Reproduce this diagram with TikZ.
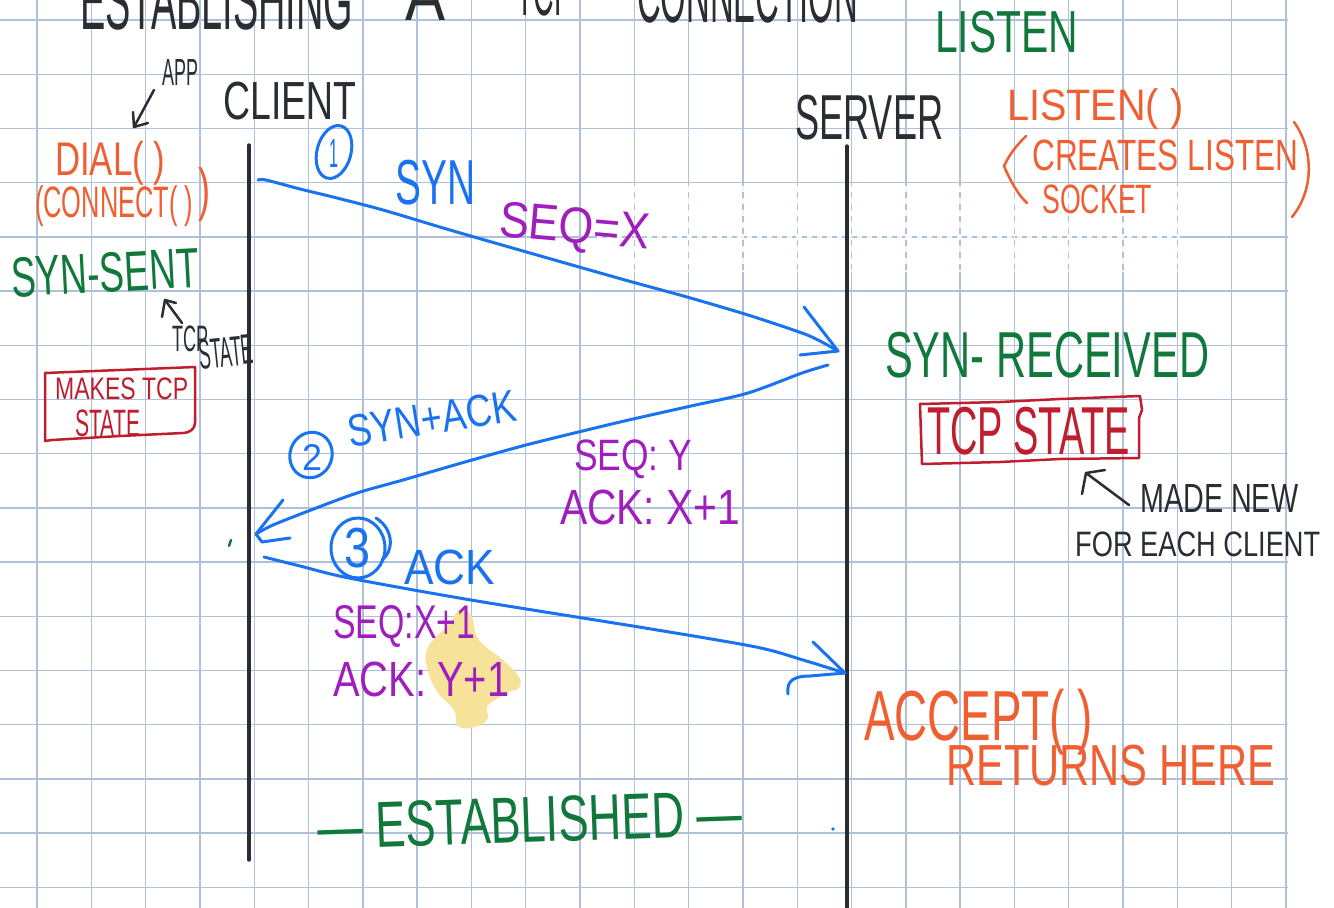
\documentclass[tikz,border=0pt]{standalone}
\usepackage{fontspec}
\setmainfont{Liberation Sans}
\usepackage{graphicx}
\definecolor{gridblue}{HTML}{AFC0DA}
\definecolor{penblue}{HTML}{1973F0}
\definecolor{penpurple}{HTML}{A01EBE}
\definecolor{pengreen}{HTML}{11783C}
\definecolor{penorange}{HTML}{F05F32}
\definecolor{penred}{HTML}{BE1E2D}
\definecolor{penblack}{HTML}{2A2E33}
\definecolor{marker}{HTML}{F7E29A}
% stretch a handwritten word to a given width and total height (in pt)
\newcommand{\hand}[3]{\resizebox*{#1pt}{#2pt}{#3}}
\begin{document}
\begin{tikzpicture}[x=1pt,y=-1pt,
  gridline/.style={gridblue, line width=1.4pt},
  lifeline/.style={penblack, line width=3.4pt, line cap=round},
  pen/.style={line width=3pt, line cap=round, line join=round},
  thinpen/.style={line width=2.5pt, line cap=round, line join=round},
  word/.style={inner sep=0pt, anchor=south west},
]
\useasboundingbox (0,0) rectangle (1334,908);
\clip (0,0) rectangle (1334,908);
\fill[white] (0,0) rectangle (1334,908);

% squared paper
\foreach \i in {0,...,23} \draw[gridline] ({37+54.3*\i},0) -- ({37+54.3*\i},908);
\foreach \j in {0,...,16} \draw[gridline] (0,{20+54.2*\j}) -- (1288,{20+54.2*\j});
% erased strip
\draw[white, line width=1.6pt, dash pattern=on 5pt off 5pt, opacity=0.85] (597,236.8) -- (1180,236.8);
\foreach \i in {11,...,21} \draw[white, line width=1.6pt, dash pattern=on 6pt off 6pt, opacity=0.85] ({37+54.3*\i},186) -- ({37+54.3*\i},272);

% highlighter
\fill[marker] plot[smooth cycle, tension=0.7] coordinates {(459,610) (471,615) (479,640) (503,660) (519,677) (519,688) (509,692) (495,700) (487,707) (487,720) (471,728) (457,725) (454,710) (436,690) (426,663) (428,647) (436,637) (450,623)};

% title
\node[word, text=penblack] (tEst) at (80,30) {\hand{273}{58}{ESTABLISHING}};
\node[word, text=penblack] (tA) at (405,21) {\hand{40}{50}{A}};
\node[word, text=penblack] (tTcp) at (516,16) {\hand{57}{50}{TCP}};
\node[word, text=penblack] (tConn) at (637,23) {\hand{221}{56}{CONNECTION}};

% lifelines
\coordinate (cTop) at (249,145);
\coordinate (cBot) at (249,860);
\coordinate (sTop) at (847,146);
\coordinate (sBot) at (847,912);
\draw[lifeline] (cTop) -- (cBot);
\draw[lifeline] (sTop) -- (sBot);

\node[word, text=penblack] (client) at (223,120) {\hand{133}{38}{CLIENT}};
\node[word, text=penblack] (server) at (795,140) {\hand{148}{45}{SERVER}};

% client side notes
\node[word, text=penblack] (app) at (162,86) {\hand{36}{26}{APP}};
\coordinate (appTail) at (154,90);
\coordinate (appTip) at (134,127);
\draw[thinpen, penblack] (appTail) -- (appTip);
\draw[thinpen, penblack] (133,112) -- (appTip) -- (148,123);

\node[word, text=penorange] (dial) at (55,185) {\hand{110}{44}{DIAL( )}};
\node[word, text=penorange] (connect) at (35,227) {\hand{158}{41}{(CONNECT( )}};
\node[word, text=penorange] (connectClose) at (198,222) {\hand{12}{54}{)}};

\node[word, text=pengreen, rotate=3] (synSent) at (12,298) {\hand{188}{40}{SYN-SENT}};
\coordinate (tcpTail) at (182,323);
\coordinate (tcpTip) at (165,300);
\draw[thinpen, penblack] (tcpTail) -- (tcpTip);
\draw[thinpen, penblack] (162,317) -- (tcpTip) -- (176,303);
\node[word, text=penblack] (tcpWord) at (172,352) {\hand{36}{26}{TCP}};
\node[word, text=penblack, rotate=6] (stateWord) at (200,370) {\hand{55}{30}{STATE}};

\draw[thinpen, penred] (45,373) -- (120,370) -- (195,367) -- (195,423) to[out=-90,in=0] (183,433) -- (120,436) -- (52,440) -- (45,441) -- cycle;
\node[word, text=penred] (makesTcp) at (55,400) {\hand{133}{22}{MAKES TCP}};
\node[word, text=penred] (makesState) at (75,437) {\hand{65}{27}{STATE}};

\draw[thinpen, pengreen] (231,540) -- (229,546);

% server side notes
\node[word, text=pengreen] (listenState) at (935,53) {\hand{143}{42}{LISTEN}};
\node[word, text=penorange] (listenCall) at (1007,130) {\hand{176}{41}{LISTEN( )}};
\node[word, text=penorange] (creates) at (1032,171) {\hand{266}{31}{CREATES LISTEN}};
\node[word, text=penorange] (socket) at (1042,214) {\hand{110}{29}{SOCKET}};
\draw[thinpen, penorange] (1026,136) .. controls (1012,150) and (1008,158) .. (1004,166) .. controls (1010,180) and (1018,195) .. (1027,203);
\draw[thinpen, penorange] (1294,122) .. controls (1314,150) and (1314,190) .. (1292,217);

\node[word, text=pengreen] (synRcvd) at (885,378) {\hand{324}{46}{SYN- RECEIVED}};
\draw[thinpen, penred] (920,404) -- (1000,402) -- (1060,399) -- (1140,396) -- (1142,410) -- (1139,418) -- (1139,458) -- (1060,459) -- (1000,462) -- (922,464) -- cycle;
\node[word, text=penred] (tcpState) at (927,455) {\hand{203}{48}{TCP STATE}};
\coordinate (madeTail) at (1129,505);
\coordinate (madeTip) at (1086,473);
\draw[thinpen, penblack] (madeTail) -- (madeTip);
\draw[thinpen, penblack] (1082,494) -- (madeTip) -- (1105,470);
\node[word, text=penblack] (madeNew) at (1140,513) {\hand{158}{28}{MADE NEW}};
\node[word, text=penblack] (eachClient) at (1075,557) {\hand{245}{25}{FOR EACH CLIENT}};

\node[word, text=penorange] (accept) at (864,755) {\hand{229}{66}{ACCEPT( )}};
\node[word, text=penorange] (returns) at (946,786) {\hand{329}{41}{RETURNS HERE}};

% step 1: SYN
\coordinate (synFrom) at (258,180);
\coordinate (synTo) at (838,351);
\draw[pen, penblue] plot[smooth, tension=0.5] coordinates {(synFrom) (266,180) (300,189) (333,197) (383,210) (450,230) (530,253) (625,280) (687,297) (748,315) (802,333) (820,341) (synTo)};
\draw[pen, penblue] (804,307) -- (synTo) -- (800,355);
\draw[pen, penblue, rotate around={-15:(334,152)}] (334,152) ellipse [x radius=17, y radius=27];
\node[text=penblue, inner sep=0pt] (one) at (334,153) {\hand{9}{28}{1}};
\node[word, text=penblue] (synWord) at (395,205) {\hand{80}{45}{SYN}};
\node[word, text=penpurple, rotate=-5] (seqX) at (497,246) {\hand{151}{45}{SEQ=X}};

% step 2: SYN+ACK
\coordinate (saFrom) at (828,365);
\coordinate (saTo) at (256,534);
\draw[pen, penblue] plot[smooth, tension=0.5] coordinates {(saFrom) (802,373) (748,393) (691,406) (633,419) (595,428) (526,445) (465,462) (403,480) (357,493) (311,510) (273,525) (saTo)};
\draw[pen, penblue] (283,500) -- (saTo);
\draw[pen, penblue] (290,538) -- (262,542) -- (saTo);
\draw[pen, penblue, rotate around={-20:(311,455)}] (311,455) ellipse [x radius=21, y radius=23];
\node[text=penblue, inner sep=0pt] (two) at (312,457) {\hand{20}{26}{2}};
\node[word, text=penblue, rotate=9] (synAck) at (350,448) {\hand{170}{32}{SYN+ACK}};
\node[word, text=penpurple] (seqY) at (574,479) {\hand{118}{39}{SEQ: Y}};
\node[word, text=penpurple] (ackX) at (560,525) {\hand{180}{35}{ACK: X+1}};

% step 3: ACK
\coordinate (ackFrom) at (264,557);
\coordinate (ackTo) at (845,673);
\draw[pen, penblue] plot[smooth, tension=0.5] coordinates {(ackFrom) (300,566) (349,578) (471,600) (645,628) (756,647) (803,660) (ackTo)};
\draw[pen, penblue] (813,642) -- (ackTo);
\draw[pen, penblue] (788,694) .. controls (786,680) and (795,676) .. (810,676) -- (ackTo);
\draw[pen, penblue] (358,548) ellipse [x radius=27, y radius=30];
\draw[pen, penblue] (376,518) .. controls (395,530) and (393,552) .. (382,560);
\node[text=penblue, inner sep=0pt] (three) at (357,548) {\hand{26}{40}{3}};
\node[word, text=penblue] (ackWord) at (404,585) {\hand{91}{35}{ACK}};
\node[word, text=penpurple] (seqX1) at (333,648) {\hand{142}{42}{SEQ:X+1}};
\node[word, text=penpurple] (ackY1) at (333,697) {\hand{176}{35}{ACK: Y+1}};

\fill[penblue] (833,829) circle [radius=1.8];

% connection open
\node[text=pengreen, inner sep=0pt, rotate=2] (established) at (530,820) {\hand{425}{46}{— ESTABLISHED —}};
\end{tikzpicture}
\end{document}
